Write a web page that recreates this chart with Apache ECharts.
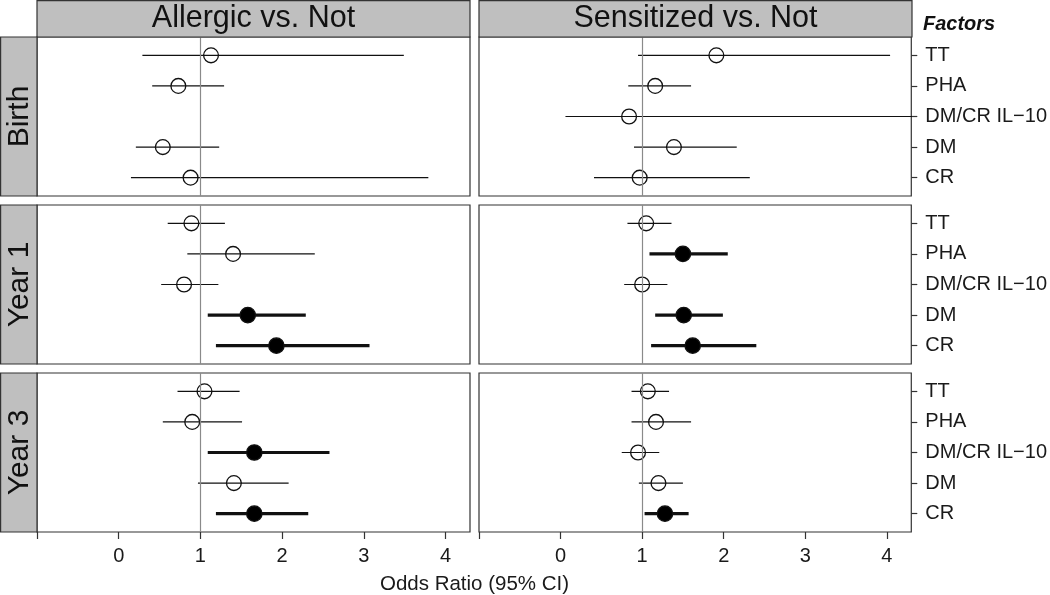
<!DOCTYPE html>
<html>
<head>
<meta charset="utf-8">
<script src="https://cdn.jsdelivr.net/npm/echarts@6/dist/echarts.min.js"></script>
<style>
html,body{margin:0;padding:0;background:#fff;}
#chart{width:1050px;height:595px;}
</style>
</head>
<body>
<div id="chart"></div>
<script>
// Factors, top to bottom
const factors = ['TT', 'PHA', 'DM/CR IL\u221210', 'DM', 'CR'];
const columnTitles = ['Allergic vs. Not', 'Sensitized vs. Not'];
const rowTitles = ['Birth', 'Year 1', 'Year 3'];
const xTicks = [-1, 0, 1, 2, 3, 4];
const xTickLabels = ['', '0', '1', '2', '3', '4'];

// Birth
const birthAllergicOR   = [1.13, 0.73, null, 0.54, 0.88];
const birthAllergicLow  = [0.29, 0.41, null, 0.21, 0.15];
const birthAllergicHigh = [3.49, 1.29, null, 1.23, 3.79];
const birthSensitizedOR   = [1.91, 1.16, 0.84, 1.39, 0.97];
const birthSensitizedLow  = [0.95, 0.83, 0.06, 0.90, 0.41];
const birthSensitizedHigh = [4.04, 1.60, 6.00, 2.16, 2.32];
// Year 1
const year1AllergicOR   = [0.89, 1.40, 0.80, 1.58, 1.93];
const year1AllergicLow  = [0.60, 0.84, 0.52, 1.09, 1.19];
const year1AllergicHigh = [1.30, 2.40, 1.22, 2.29, 3.07];
const year1SensitizedOR   = [1.05, 1.50, 1.00, 1.51, 1.62];
const year1SensitizedLow  = [0.82, 1.09, 0.78, 1.16, 1.11];
const year1SensitizedHigh = [1.36, 2.05, 1.31, 1.99, 2.40];
// Year 3
const year3AllergicOR   = [1.05, 0.90, 1.66, 1.41, 1.66];
const year3AllergicLow  = [0.72, 0.54, 1.09, 0.97, 1.19];
const year3AllergicHigh = [1.48, 1.51, 2.58, 2.08, 2.32];
const year3SensitizedOR   = [1.07, 1.17, 0.95, 1.20, 1.28];
const year3SensitizedLow  = [0.87, 0.87, 0.75, 0.96, 1.03];
const year3SensitizedHigh = [1.33, 1.60, 1.21, 1.50, 1.57];

const panels = [
  [birthAllergicOR, birthAllergicLow, birthAllergicHigh],
  [birthSensitizedOR, birthSensitizedLow, birthSensitizedHigh],
  [year1AllergicOR, year1AllergicLow, year1AllergicHigh],
  [year1SensitizedOR, year1SensitizedLow, year1SensitizedHigh],
  [year3AllergicOR, year3AllergicLow, year3AllergicHigh],
  [year3SensitizedOR, year3SensitizedLow, year3SensitizedHigh]
];

const FONT = '"Liberation Sans", Arial, sans-serif';
const colLeft = [37, 479];
const panelW = 433;
const rowTop = [37, 205, 373];
const panelH = 159;
const yPos = factors.map((f, i) => factors.length - i);

const grids = [], xAxes = [], yAxes = [], series = [];
for (let r = 0; r < 3; r++) {
  for (let c = 0; c < 2; c++) {
    const idx = r * 2 + c;
    grids.push({
      left: colLeft[c], top: rowTop[r], width: panelW, height: panelH,
      show: true, backgroundColor: '#fff', borderColor: '#333', borderWidth: 1.2
    });
    const bottom = r === 2;
    xAxes.push({
      gridIndex: idx, type: 'value', min: -1, max: 4.3, interval: 1,
      show: bottom, position: 'bottom',
      axisLine: { show: false, onZero: false },
      axisTick: { show: bottom, length: 7, inside: false, customValues: xTicks, lineStyle: { color: '#333', width: 1.2 } },
      axisLabel: { show: bottom, customValues: xTicks, margin: 14, fontSize: 20, color: '#1a1a1a', fontFamily: FONT,
        formatter: v => { const k = xTicks.indexOf(Math.round(v)); return k >= 0 ? xTickLabels[k] : ''; } },
      splitLine: { show: false }
    });
    const right = c === 1;
    yAxes.push({
      gridIndex: idx, type: 'value', min: 0.4, max: 5.6, position: 'right',
      show: right,
      axisLine: { show: false, onZero: false },
      axisTick: { show: right, length: 6, customValues: yPos, lineStyle: { color: '#333', width: 1.2 } },
      axisLabel: { show: right, customValues: yPos, margin: 14, fontSize: 20, color: '#1a1a1a', fontFamily: FONT,
        formatter: v => factors[factors.length - Math.round(v)] || '' },
      splitLine: { show: false }
    });
    const [or, lo, hi] = panels[idx];
    const data = [];
    for (let i = 0; i < factors.length; i++) {
      if (or[i] == null) continue;
      data.push([or[i], lo[i], hi[i], yPos[i]]);
    }
    series.push({
      type: 'custom', xAxisIndex: idx, yAxisIndex: idx, clip: true, silent: true,
      data: data, encode: { x: 0, y: 3 },
      renderItem: function (params, api) {
        const y = api.value(3);
        const p = api.coord([api.value(0), y]);
        const a = api.coord([api.value(1), y]);
        const b = api.coord([api.value(2), y]);
        const sig = api.value(1) > 1;
        return {
          type: 'group', children: [
            { type: 'line', shape: { x1: a[0], y1: a[1], x2: b[0], y2: b[1] },
              style: { stroke: '#111', lineWidth: sig ? 3.2 : 1.2 } },
            { type: 'circle', shape: { cx: p[0], cy: p[1], r: sig ? 7.7 : 7.4 },
              style: { fill: sig ? '#000' : 'none', stroke: '#111', lineWidth: 1.3 } }
          ]
        };
      },
      markLine: {
        silent: true, symbol: ['none', 'none'], animation: false,
        label: { show: false },
        lineStyle: { color: '#8a8a8a', width: 1.2, type: 'solid' },
        data: [{ xAxis: 1 }]
      },
      z: 3
    });
  }
}

const graphics = [];
// column strips
for (let c = 0; c < 2; c++) {
  graphics.push({ type: 'rect', shape: { x: colLeft[c], y: 0.6, width: panelW, height: rowTop[0] - 0.6 },
    style: { fill: '#bfbfbf', stroke: '#333', lineWidth: 1.2 }, z: 10 });
  graphics.push({ type: 'text', x: colLeft[c] + panelW / 2, y: 19,
    style: { text: columnTitles[c], fontSize: 30.5, fontFamily: FONT, fill: '#111', textAlign: 'center', textVerticalAlign: 'middle' }, z: 11 });
}
// row strips
for (let r = 0; r < 3; r++) {
  graphics.push({ type: 'rect', shape: { x: 0.6, y: rowTop[r], width: colLeft[0] - 0.6, height: panelH },
    style: { fill: '#bfbfbf', stroke: '#333', lineWidth: 1.2 }, z: 10 });
  graphics.push({ type: 'text', x: 19.5, y: rowTop[r] + panelH / 2, rotation: Math.PI / 2,
    style: { text: rowTitles[r], fontSize: 30, fontFamily: FONT, fill: '#111', textAlign: 'center', textVerticalAlign: 'middle' }, z: 11 });
}
graphics.push({ type: 'text', x: 923, y: 24,
  style: { text: 'Factors', fontSize: 20, fontWeight: 'bold', fontStyle: 'italic', fontFamily: FONT, fill: '#111', textAlign: 'left', textVerticalAlign: 'middle' } });
graphics.push({ type: 'text', x: (colLeft[0] + colLeft[1] + panelW) / 2, y: 584,
  style: { text: 'Odds Ratio (95% CI)', fontSize: 20.5, fontFamily: FONT, fill: '#1a1a1a', textAlign: 'center', textVerticalAlign: 'middle' } });

const chart = echarts.init(document.getElementById('chart'), null, { renderer: 'canvas' });
chart.setOption({
  animation: false,
  backgroundColor: '#fff',
  grid: grids, xAxis: xAxes, yAxis: yAxes, series: series,
  graphic: graphics
});
</script>
</body>
</html>
